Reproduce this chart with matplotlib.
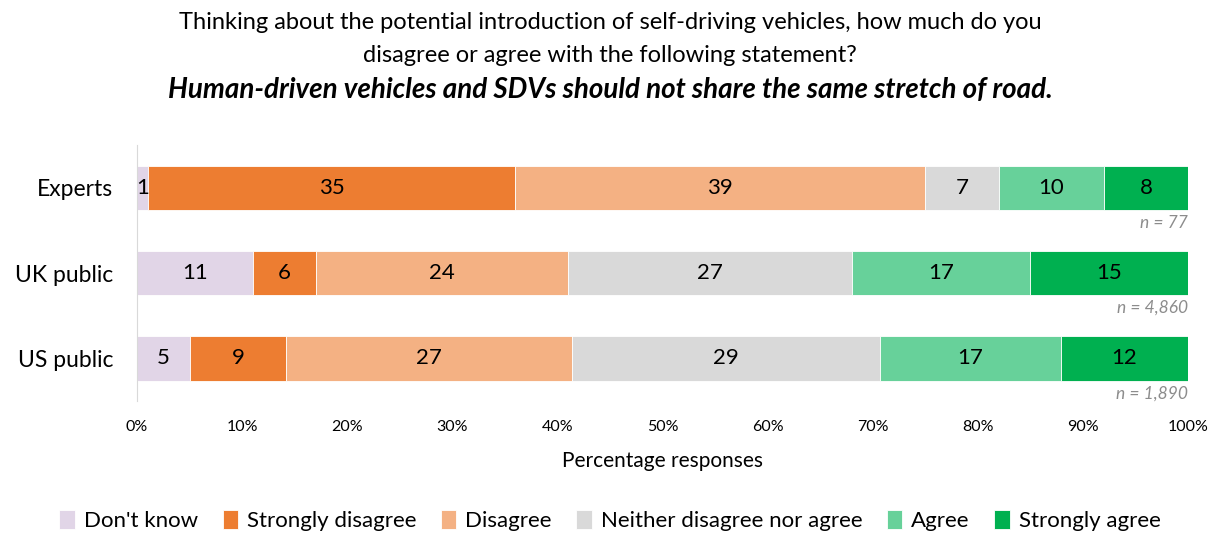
import numpy as np
import matplotlib.pyplot as plt

# data
groups = ["Experts", "UK public", "US public"]
categories = ["Don't know", "Strongly disagree", "Disagree",
              "Neither disagree nor agree", "Agree", "Strongly agree"]
experts = [1, 35, 39, 7, 10, 8]
uk_public = [11, 6, 24, 27, 17, 15]
us_public = [5, 9, 27, 29, 17, 12]
sample_sizes = ["n = 77", "n = 4,860", "n = 1,890"]
colors = ["#E1D5E7", "#ED7D31", "#F4B183", "#D9D9D9", "#67D19A", "#00B050"]

plt.rcParams['font.family'] = ['Lato', 'DejaVu Sans']

data = np.array([experts, uk_public, us_public], dtype=float)
# rows are shown as 100% bars
shares = data / data.sum(axis=1, keepdims=True) * 100

fig = plt.figure(figsize=(12.2, 5.34), dpi=100)
ax = fig.add_axes([0.1123, 0.249, 0.8615, 0.4794])

y = np.arange(len(groups))
left = np.zeros(len(groups))
for j, cat in enumerate(categories):
    ax.barh(y, shares[:, j], left=left, height=0.52, color=colors[j],
            label=cat, edgecolor='white', linewidth=0.6)
    for i in range(len(groups)):
        ax.text(left[i] + shares[i, j] / 2, y[i], str(int(data[i, j])),
                ha='center', va='center', fontsize=16, color='black')
    left += shares[:, j]

for i, n in enumerate(sample_sizes):
    ax.text(100, y[i] + 0.41, n, ha='right', va='center', fontsize=12.5,
            style='italic', color='#8C8C8C')

ax.set_xlim(0, 100)
ax.set_ylim(2.5, -0.5)
ax.set_yticks(y)
ax.set_yticklabels(groups, fontsize=16.5)
ax.set_xticks(np.arange(0, 101, 10))
ax.set_xticklabels([f"{v}%" for v in range(0, 101, 10)], fontsize=11.5)
ax.tick_params(length=0)
ax.tick_params(axis='x', pad=14)
ax.tick_params(axis='y', pad=17)
for s in ['top', 'right', 'bottom']:
    ax.spines[s].set_visible(False)
ax.spines['left'].set_color('#D9D9D9')
ax.set_xlabel("Percentage responses", fontsize=15, labelpad=12)

fig.text(0.5, 0.958, "Thinking about the potential introduction of self-driving vehicles, how much do you",
         ha='center', va='center', fontsize=17)
fig.text(0.5, 0.896, "disagree or agree with the following statement?",
         ha='center', va='center', fontsize=17)
fig.text(0.5, 0.832, "Human-driven vehicles and SDVs should not share the same stretch of road.",
         ha='center', va='center', fontsize=20, fontweight='bold', style='italic')

fig.legend(loc='center', bbox_to_anchor=(0.5, 0.025), ncol=6, frameon=False,
           fontsize=16, handlelength=0.7, handleheight=0.9, handletextpad=0.4,
           columnspacing=1.1)

fig.savefig("out.png", dpi=100)
